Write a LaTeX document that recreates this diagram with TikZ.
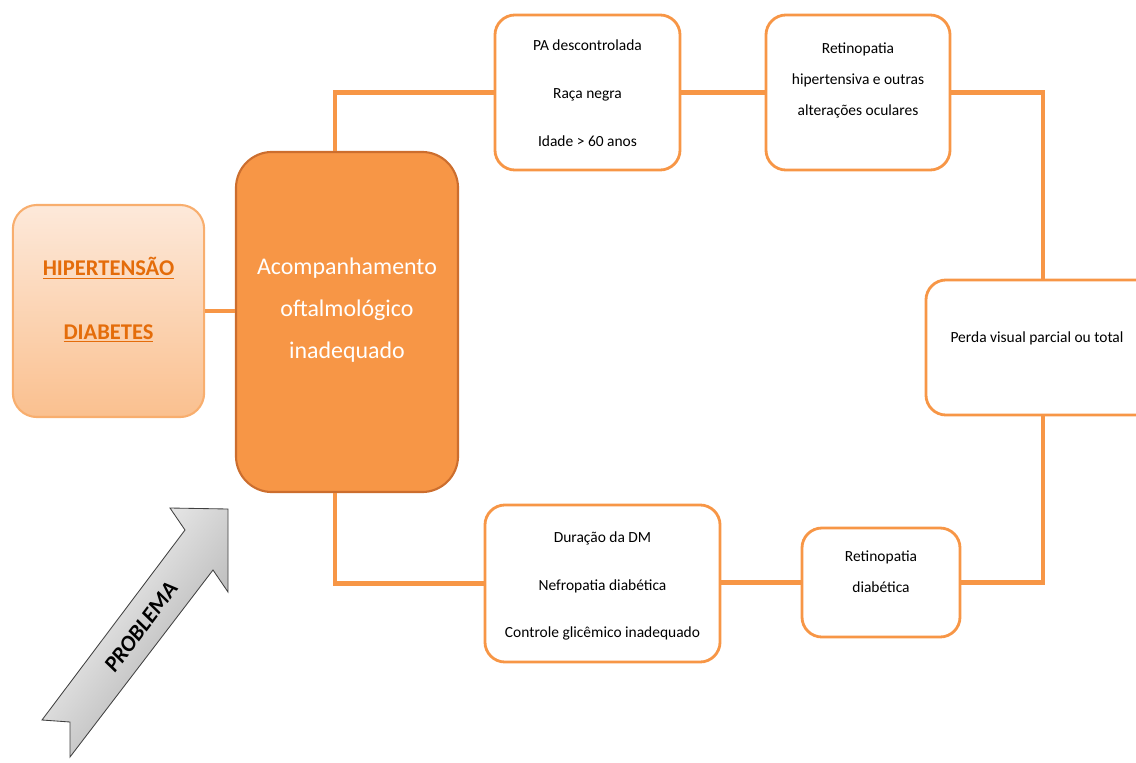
\documentclass[tikz,border=0pt]{standalone}
\usepackage{fontspec}
\setmainfont{Carlito}

\definecolor{accorange}{HTML}{F79646}
\definecolor{accdark}{HTML}{CC6E2E}
\definecolor{hiptop}{HTML}{FDE9DA}
\definecolor{hipbottom}{HTML}{FAC08F}
\definecolor{hiptext}{HTML}{E46C0A}
\definecolor{hipline}{HTML}{F8AE6E}

\begin{document}
\begin{tikzpicture}[x=0.025cm,y=-0.025cm,
  link/.style={accorange,line width=3.5pt},
  factorbox/.style={draw=accorange,line width=2pt,fill=white,rounded corners=0.5cm},
  smalltext/.style={align=center,font=\fontsize{11}{13.2}\selectfont}]
  \useasboundingbox (0,0) rectangle (1136,762);

  \node[draw=hipline,line width=1.5pt,top color=hiptop,bottom color=hipbottom,rounded corners=0.6cm,minimum width=4.78cm,minimum height=5.3cm] (hip) at (108.5,311) {};
  \node[align=center,text=hiptext,font=\fontsize{16}{19.2}\selectfont\bfseries] (hiptxt) at (108.5,300) {\underline{HIPERTENSÃO}\\[26pt]\underline{DIABETES}};

  \node[draw=accdark,line width=1.5pt,fill=accorange,rounded corners=0.9cm,minimum width=5.55cm,minimum height=8.5cm] (acomp) at (347,322) {};
  \node[align=center,text=white,font=\fontsize{17}{20.5}\selectfont] (acomptxt) at (347,310) {Acompanhamento\\[9.5pt]oftalmológico\\[9.5pt]inadequado};

  \node[factorbox,minimum width=4.625cm,minimum height=3.875cm] (pa) at (587.5,92.5) {};
  \node[smalltext] (patxt) at (587.5,93) {PA descontrolada\\[20.8pt]Raça negra\\[20.8pt]Idade > 60 anos};

  \node[factorbox,minimum width=4.6cm,minimum height=3.875cm] (reth) at (858,92.5) {};
  \node[smalltext] (rethtxt) at (858,80.5) {Retinopatia\\[9pt]hipertensiva e outras\\[9pt]alterações oculares};

  \node[factorbox,minimum width=5.85cm,minimum height=3.375cm] (perda) at (1043,347.5) {};
  \node[smalltext] (perdatxt) at (1037,338) {Perda visual parcial ou total};

  \node[factorbox,minimum width=3.95cm,minimum height=2.725cm] (retd) at (881,582.5) {};
  \node[smalltext] (retdtxt) at (881,571.5) {Retinopatia\\[8.8pt]diabética};

  \node[factorbox,minimum width=5.875cm,minimum height=3.925cm] (dur) at (602.5,583.5) {};
  \node[smalltext] (durtxt) at (602.5,586) {Duração da DM\\[20.8pt]Nefropatia diabética\\[20.8pt]Controle glicêmico inadequado};

  \draw[link] (hip.east) -- (hip.east -| acomp.west);
  \draw[link] ([xshift=-0.3cm]acomp.north) |- (pa.west);
  \draw[link] (pa.east) -- (reth.west);
  \draw[link] (reth.east) -| (perda.north);
  \draw[link] (perda.south) |- (retd.east);
  \draw[link] (retd.west) -- (retd.west -| dur.east);
  \draw[link] (dur.west) -| ([xshift=-0.3cm]acomp.south);

  \shadedraw[top color=white,bottom color=black!35,shading angle=53,draw=black!75,line width=0.6pt] (42,720) -- (185,530) -- (170,508) -- (228,509) -- (228,592) -- (213,570) -- (70,757) -- (70,722) -- cycle;
  \node[rotate=53,font=\fontsize{16}{18}\selectfont\bfseries\itshape] (problema) at (141,627) {PROBLEMA};

\end{tikzpicture}
\end{document}
